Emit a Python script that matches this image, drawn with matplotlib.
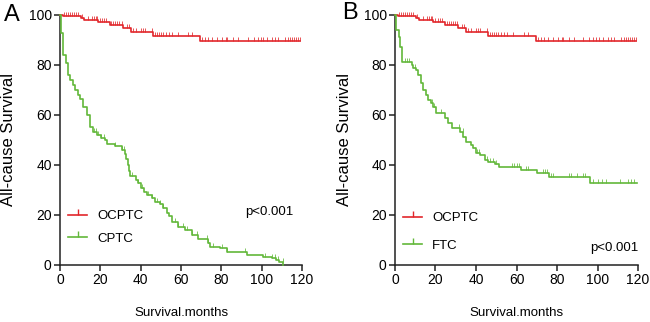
import numpy as np
import matplotlib
matplotlib.use("Agg")
import matplotlib.pyplot as plt
from matplotlib.lines import Line2D
from matplotlib.path import Path
from matplotlib import font_manager

# Kaplan-Meier steps (month of drop, survival after drop)
ocptc_t = [0, 1.5, 10.4, 12, 19, 24.8, 31.3, 35.2, 46, 69.4]
ocptc_s = [100, 99.5, 98.7, 97.9, 97.1, 96.0, 94.7, 93.3, 91.7, 89.6]
ocptc_end = 119
ocptc_cens = [2, 3, 4, 5, 6, 7, 8, 9, 11, 14, 16, 17, 17.7, 18.3, 20, 21, 22, 23,
              25.5, 26.5, 27.5, 28.5, 29.5, 30.5, 33, 34, 36, 37.5, 40, 41, 42, 45.5,
              47, 48, 49, 50, 51, 52.5, 54, 55.5, 58.5, 63.5, 65.5, 70.5, 72, 73.5,
              75.5, 78, 80.5, 82.5, 83, 86, 88.5, 93, 96, 98, 99.5, 100.5, 102.5, 105,
              106.6, 108, 111.5, 113, 114, 115, 116, 117, 118, 119]

cptc_t = [0, 0.5, 1.6, 2.8, 4.0, 5.2, 6.3, 7.6, 8.8, 10.0, 11.2, 13.6, 14.9, 16.3,
          18.5, 20.5, 22.5, 23.5, 27.3, 30.5, 32, 32.8, 33.5, 34.2, 34.8, 37.8, 38.8,
          40, 41.5, 43, 45.5, 47.2, 49.6, 51.2, 53, 54, 55.5, 58.5, 62, 65.3, 68.6,
          73.5, 74.4, 79.3, 82.6, 92.6, 100.8, 105, 107, 108.5, 110.7]
cptc_s = [100, 92.7, 84, 80.7, 76, 74, 72, 70, 68, 66.3, 63.3, 60, 55.3, 53.3,
          52, 50.7, 50, 48.5, 47.5, 46, 44.5, 42.5, 40, 37.5, 35.5, 34, 32.7,
          31, 29.3, 28, 26.7, 25.3, 24.5, 22.7, 21, 19.5, 17.3, 15.3, 14, 12, 10.3,
          8.7, 7.3, 6.7, 5.3, 4, 3.3, 2.7, 2, 1.2, 0]
cptc_end = 110.7
cptc_cens = [17, 18, 19, 20.5, 22, 27.3, 30.5, 31.5, 35.5, 38.8, 40.5, 43.8, 45.5,
             47.9, 49.6, 51.2, 57, 58.7, 61.1, 62.8, 65.3, 67.8, 72.7, 73.5, 76, 80.2,
             82.6, 91.7, 101.6, 105, 106.6, 108.2, 110.4]

ftc_t = [0, 0.3, 0.6, 1.9, 2.7, 3.5, 8.2, 9.0, 10.2, 11.5, 12.7, 14.0, 15.3, 16.5,
         17.8, 19.0, 20.4, 24.7, 26.3, 28.0, 32.0, 33.6, 35.2, 37.7, 38.5, 40.2, 41.8,
         44.5, 46, 49.4, 51.5, 62, 70.3, 76, 96.2]
ftc_s = [100, 96, 94, 91.3, 87.3, 81.3, 80, 78.7, 78, 76, 72.7, 70, 68, 66,
         64.7, 63.3, 60.7, 58.7, 56.7, 55, 53.3, 51.3, 49.3, 48, 46.7, 44.7, 44,
         42, 41.3, 40.4, 39.3, 38, 36.9, 35.3, 32.9]
ftc_end = 119.3
ftc_cens = [5, 6, 7, 10, 18.5, 19.5, 22.5, 31.5, 33.5, 40.5, 41.5, 45.5, 47, 48.5, 50,
            58, 59, 60, 61, 64.5, 65.7, 73, 74, 75, 76.8, 77.8, 86, 87, 90, 93, 94,
            97.8, 100, 102, 104, 111, 115, 116.5, 117.8]

RED = "#e2262b"
GREEN = "#62b83a"
arial = ["Liberation Sans", "DejaVu Sans"]
installed = {f.name for f in font_manager.fontManager.ttflist}
narrow = ["Liberation Sans Narrow"] + arial if "Liberation Sans Narrow" in installed else arial
small = 10.5 if narrow[0] == "Liberation Sans Narrow" else 9.5

tick = Path([(0, 0), (0, 1)])   # censor mark pointing upward


def km(ax, t, s, end, cens, color):
    ax.step(list(t) + [end], list(s) + [s[-1]], where="post", color=color,
            lw=1.2, clip_on=False, zorder=3)
    idx = np.searchsorted(t, cens, side="right") - 1
    ax.plot(cens, np.array(s)[idx], ls="none", marker=tick, ms=6, mew=0.7,
            color=color, alpha=0.8, clip_on=False, zorder=3)


fig = plt.figure(figsize=(6.5, 3.22), dpi=100)
axA = fig.add_axes([60 / 650, 57 / 322, 242 / 650, 250 / 322])
axB = fig.add_axes([395 / 650, 57 / 322, 243 / 650, 250 / 322])

panels = [
    (axA, cptc_t, cptc_s, cptc_end, cptc_cens, "CPTC", 15, 0.8, (91.7, 21.3), -51 / 242),
    (axB, ftc_t, ftc_s, ftc_end, ftc_cens, "FTC", 13.3, 1.15, (96.3, 7), -50 / 243),
]

for ax, t, s, end, cens, name, leg_y, leg_sp, ptxt, ylab_x in panels:
    km(ax, ocptc_t, ocptc_s, ocptc_end, ocptc_cens, RED)
    km(ax, t, s, end, cens, GREEN)
    ax.set_xlim(0, 120)
    ax.set_ylim(0, 100)
    ax.set_xticks(range(0, 121, 20))
    ax.set_yticks(range(0, 101, 20))
    for sp in ["top", "right"]:
        ax.spines[sp].set_visible(False)
    for sp in ["left", "bottom"]:
        ax.spines[sp].set_linewidth(1.1)
        ax.spines[sp].set_color("#222222")
    ax.tick_params(length=4, width=1.1, color="#222222", labelsize=small + 0.5, pad=2)
    for lab in ax.get_xticklabels() + ax.get_yticklabels():
        lab.set_family(narrow)
    xl = ax.set_xlabel("Survival.months", family=narrow, fontsize=small)
    xl.set_va("center")
    ax.xaxis.set_label_coords(0.5, -0.192)
    yl = ax.set_ylabel("All-cause Survival", family=arial, fontsize=12)
    yl.set_va("center")
    ax.yaxis.set_label_coords(ylab_x, 0.5)
    ax.text(ptxt[0], ptxt[1], "p<0.001", family=narrow, fontsize=small, va="center")

    handles = [Line2D([], [], color=RED, lw=1.2, marker=tick, ms=8, mew=1),
               Line2D([], [], color=GREEN, lw=1.2, marker=tick, ms=8, mew=1)]
    ax.legend(handles, ["OCPTC", name], loc="center left",
              bbox_to_anchor=(4, leg_y), bbox_transform=ax.transData,
              frameon=False, borderpad=0, borderaxespad=0, handlelength=1.45,
              handletextpad=0.75, labelspacing=leg_sp, numpoints=1,
              prop={"family": narrow, "size": small})

fig.text(12 / 650, 1 - 15 / 322, "A", family=arial, fontsize=17, ha="center", va="center")
fig.text(350 / 650, 1 - 13 / 322, "B", family=arial, fontsize=17, ha="center", va="center")

fig.savefig("out.png", dpi=100)
